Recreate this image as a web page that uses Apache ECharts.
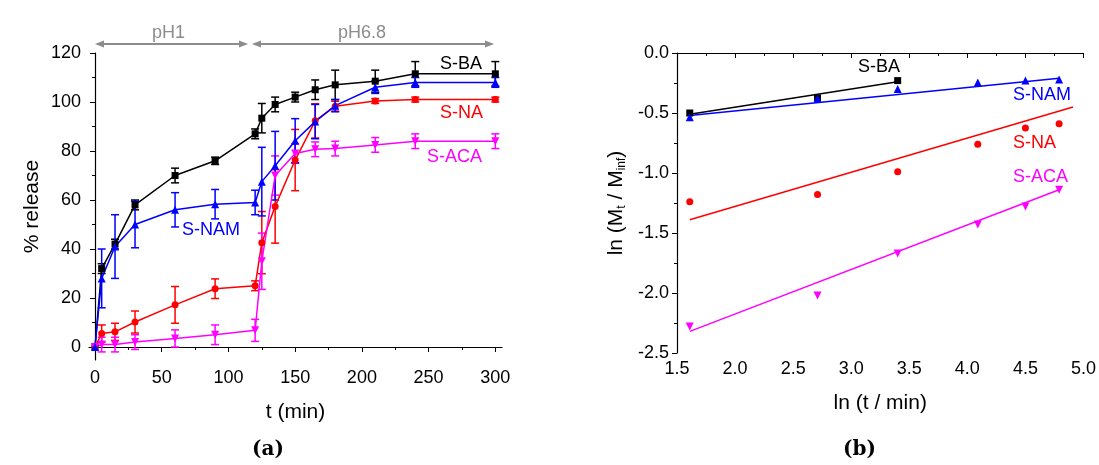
<!DOCTYPE html>
<html>
<head>
<meta charset="utf-8">
<script src="https://cdn.jsdelivr.net/npm/echarts@6/dist/echarts.min.js"></script>
<style>
  html, body { margin: 0; padding: 0; background: #fff; }
  #main { width: 1099px; height: 465px; }
</style>
</head>
<body>
<div id="main"></div>
<script>
// (a) release profiles
var tMin = [0, 5, 15, 30, 60, 90, 120, 125, 135, 150, 165, 180, 210, 240, 300];
var sbaA = [0, 32, 42, 58, 70, 76, 87, 93.4, 99, 102, 105, 107, 108.5, 111.5, 111.5];
var sbaErr = [0, 2, 2, 2, 3, 1.5, 2, 6, 3, 2, 4, 6, 4.5, 5, 5];
var snamA = [0, 28, 41, 50, 56, 58.3, 59, 67.5, 74, 84.2, 92, 98.5, 106, 108, 108];
var snamErr = [0, 12, 13, 9.5, 7, 6, 5, 14, 14, 9, 7, 2.5, 2.5, 2, 2];
var snaA = [0, 5.5, 6.2, 10.2, 17.2, 23.8, 25, 42.6, 57.4, 76.3, 92.3, 98.3, 100.4, 101, 101];
var snaErr = [0, 3.5, 3.5, 4.5, 7.5, 4, 2, 12.7, 15, 12.5, 7, 2, 1, 1, 1];
var sacaA = [0, 1, 1, 2, 3.5, 5, 6.8, 35, 70, 79, 80.7, 81, 82.5, 84, 84];
var sacaErr = [0, 3, 3, 3, 3.5, 4, 4.5, 11.5, 8, 4, 3, 3, 3, 3, 3];
var xTicksA = [0, 50, 100, 150, 200, 250, 300];
var xMinorA = [25, 75, 125, 175, 225, 275];
var yTicksA = [0, 20, 40, 60, 80, 100, 120];
var yMinorA = [10, 30, 50, 70, 90, 110];

// (b) ln-ln plot
var lnT = [1.61, 2.71, 3.40, 4.09, 4.50, 4.79];
var sbaB = [-0.50, -0.375, -0.23];
var snamB = [-0.535, -0.38, -0.30, -0.245, -0.23, -0.22];
var snaB = [-1.24, -1.18, -0.99, -0.76, -0.625, -0.59];
var sacaB = [-2.28, -2.02, -1.67, -1.43, -1.28, -1.14];
var sbaFit = [[1.61, -0.51], [3.40, -0.24]];
var snamFit = [[1.61, -0.52], [4.79, -0.21]];
var snaFit = [[1.61, -1.39], [4.91, -0.45]];
var sacaFit = [[1.61, -2.32], [4.79, -1.14]];

var FONT = '"Liberation Sans", Arial, sans-serif';
var SERIF = '"DejaVu Serif", "Liberation Serif", serif';
var BLACK = '#000000', BLUE = '#0000ff', RED = '#ff0000', MAG = '#ff00ff', GRAY = '#8c8c8c';

function pairs(xs, ys) {
  return ys.map(function (y, i) { return [xs[i], y]; });
}

function errBars(xs, ys, es, color) {
  var d = [];
  for (var i = 0; i < ys.length; i++) {
    if (es[i] > 0) d.push([xs[i], ys[i] - es[i], ys[i] + es[i]]);
  }
  return {
    type: 'custom', xAxisIndex: 0, yAxisIndex: 0, z: 2, silent: true,
    data: d,
    encode: { x: 0, y: [1, 2] },
    renderItem: function (params, api) {
      var lo = api.coord([api.value(0), api.value(1)]);
      var hi = api.coord([api.value(0), api.value(2)]);
      var w = 4;
      var st = { stroke: color, lineWidth: 1.5 };
      return {
        type: 'group',
        children: [
          { type: 'line', shape: { x1: lo[0], y1: lo[1], x2: hi[0], y2: hi[1] }, style: st },
          { type: 'line', shape: { x1: lo[0] - w, y1: lo[1], x2: lo[0] + w, y2: lo[1] }, style: st },
          { type: 'line', shape: { x1: hi[0] - w, y1: hi[1], x2: hi[0] + w, y2: hi[1] }, style: st }
        ]
      };
    }
  };
}

function lineA(name, ys, color, symbol, size, rot) {
  return {
    name: name, type: 'line', xAxisIndex: 0, yAxisIndex: 0, z: 3,
    data: pairs(tMin, ys),
    symbol: symbol, symbolSize: size, symbolRotate: rot || 0, showAllSymbol: true,
    itemStyle: { color: color },
    lineStyle: { color: color, width: 1.5 }
  };
}

function scatterB(ys, color, symbol, size, rot) {
  return {
    type: 'scatter', xAxisIndex: 2, yAxisIndex: 2, z: 3,
    data: pairs(lnT, ys),
    symbol: symbol, symbolSize: size, symbolRotate: rot || 0,
    itemStyle: { color: color, opacity: 1 }
  };
}

function fitB(pts, color) {
  return {
    type: 'line', xAxisIndex: 2, yAxisIndex: 2, z: 2,
    data: pts, symbol: 'none',
    lineStyle: { color: color, width: 1.5 }
  };
}

function label(txt, x, y, color, size) {
  return { type: 'text', left: x, top: y, style: { text: txt, fill: color, font: (size || 18) + 'px ' + FONT } };
}

var axisBase = {
  axisLine: { show: true, lineStyle: { color: '#000', width: 1.2 } },
  axisTick: { show: true, inside: false, length: 5, lineStyle: { color: '#000' } },
  axisLabel: { color: '#000', fontSize: 18, fontFamily: FONT },
  splitLine: { show: false }
};
var nameStyle = { fontSize: 21, fontFamily: FONT, color: '#000' };

function minorAxis(grid, min, max, vals, pos) {
  return {
    type: 'value', gridIndex: grid, min: min, max: max, position: pos, offset: 0,
    axisLine: { show: false },
    axisTick: { show: true, length: 3, customValues: vals, lineStyle: { color: '#000' } },
    axisLabel: { show: false },
    splitLine: { show: false }
  };
}

var chart = echarts.init(document.getElementById('main'));
var option = {
  backgroundColor: '#fff',
  animation: false,
  grid: [
    { left: 89, top: 53, width: 413, height: 307 },
    { left: 677, top: 53, width: 408, height: 300 }
  ],
  title: [
    { text: '(a)', left: 252, top: 440, padding: 0, textStyle: { fontFamily: SERIF, fontSize: 20, fontWeight: 'bold', color: '#000' } },
    { text: '(b)', left: 843, top: 440, padding: 0, textStyle: { fontFamily: SERIF, fontSize: 20, fontWeight: 'bold', color: '#000' } }
  ],
  xAxis: [
    Object.assign({}, axisBase, {
      type: 'value', gridIndex: 0, min: -4.5, max: 305, position: 'bottom',
      axisTick: Object.assign({}, axisBase.axisTick, { customValues: xTicksA }),
      axisLabel: Object.assign({}, axisBase.axisLabel, { customValues: xTicksA, margin: 9 }),
      name: 't (min)', nameLocation: 'middle', nameGap: 42, nameTextStyle: nameStyle
    }),
    minorAxis(0, -4.5, 305, xMinorA, 'bottom'),
    Object.assign({}, axisBase, {
      type: 'value', gridIndex: 1, min: 1.5, max: 5.0, interval: 0.5,
      minorTick: { show: true, splitNumber: 2, length: 3, lineStyle: { color: '#000' } },
      axisLabel: Object.assign({}, axisBase.axisLabel, { margin: 7, formatter: function (v) { return v.toFixed(1); } }),
      name: 'ln (t / min)', nameLocation: 'middle', nameGap: 40, nameTextStyle: nameStyle
    })
  ],
  yAxis: [
    Object.assign({}, axisBase, {
      type: 'value', gridIndex: 0, min: -5.3, max: 120, position: 'left',
      axisTick: Object.assign({}, axisBase.axisTick, { customValues: yTicksA }),
      axisLabel: Object.assign({}, axisBase.axisLabel, { customValues: yTicksA, margin: 8 }),
      name: '% release', nameLocation: 'middle', nameGap: 46, nameTextStyle: nameStyle
    }),
    minorAxis(0, -5.3, 120, yMinorA, 'left'),
    Object.assign({}, axisBase, {
      type: 'value', gridIndex: 1, min: -2.5, max: 0, interval: 0.5,
      minorTick: { show: true, splitNumber: 2, length: 3, lineStyle: { color: '#000' } },
      axisLabel: Object.assign({}, axisBase.axisLabel, { margin: 8, formatter: function (v) { return v.toFixed(1); } }),
      name: 'ln (M{s|t} / M{s|inf})', nameLocation: 'middle', nameGap: 49,
      nameTextStyle: Object.assign({}, nameStyle, {
        rich: { s: { fontSize: 12, fontFamily: FONT, color: '#000', padding: [12, 0, 0, 0] } }
      })
    })
  ],
  graphic: [
    label('pH1', 152, 24, GRAY),
    label('pH6.8', 338, 24, GRAY),
    { type: 'line', shape: { x1: 97, y1: 44, x2: 246, y2: 44 }, style: { stroke: GRAY, lineWidth: 2 } },
    { type: 'polygon', shape: { points: [[95, 44], [104, 40.5], [104, 47.5]] }, style: { fill: GRAY } },
    { type: 'polygon', shape: { points: [[248, 44], [239, 40.5], [239, 47.5]] }, style: { fill: GRAY } },
    { type: 'line', shape: { x1: 254, y1: 44, x2: 492, y2: 44 }, style: { stroke: GRAY, lineWidth: 2 } },
    { type: 'polygon', shape: { points: [[252, 44], [261, 40.5], [261, 47.5]] }, style: { fill: GRAY } },
    { type: 'polygon', shape: { points: [[494, 44], [485, 40.5], [485, 47.5]] }, style: { fill: GRAY } },
    label('S-BA', 440, 55, BLACK),
    label('S-NA', 440, 104, RED),
    label('S-ACA', 427, 148, MAG),
    label('S-NAM', 182, 221, BLUE),
    label('S-BA', 858, 58, BLACK),
    label('S-NAM', 1013, 86, BLUE),
    label('S-NA', 1013, 134, RED),
    label('S-ACA', 1013, 168, MAG)
  ],
  series: [
    errBars(tMin, sbaA, sbaErr, BLACK),
    errBars(tMin, snaA, snaErr, RED),
    errBars(tMin, sacaA, sacaErr, MAG),
    errBars(tMin, snamA, snamErr, BLUE),
    lineA('S-BA', sbaA, BLACK, 'rect', 7),
    lineA('S-NA', snaA, RED, 'circle', 7),
    lineA('S-ACA', sacaA, MAG, 'triangle', 8, 180),
    lineA('S-NAM', snamA, BLUE, 'triangle', 8),
    fitB(sbaFit, BLACK),
    fitB(snamFit, BLUE),
    fitB(snaFit, RED),
    fitB(sacaFit, MAG),
    scatterB(sbaB, BLACK, 'rect', 7),
    scatterB(snamB, BLUE, 'triangle', 8),
    scatterB(snaB, RED, 'circle', 7),
    scatterB(sacaB, MAG, 'triangle', 8, 180)
  ]
};
chart.setOption(option);
</script>
</body>
</html>
